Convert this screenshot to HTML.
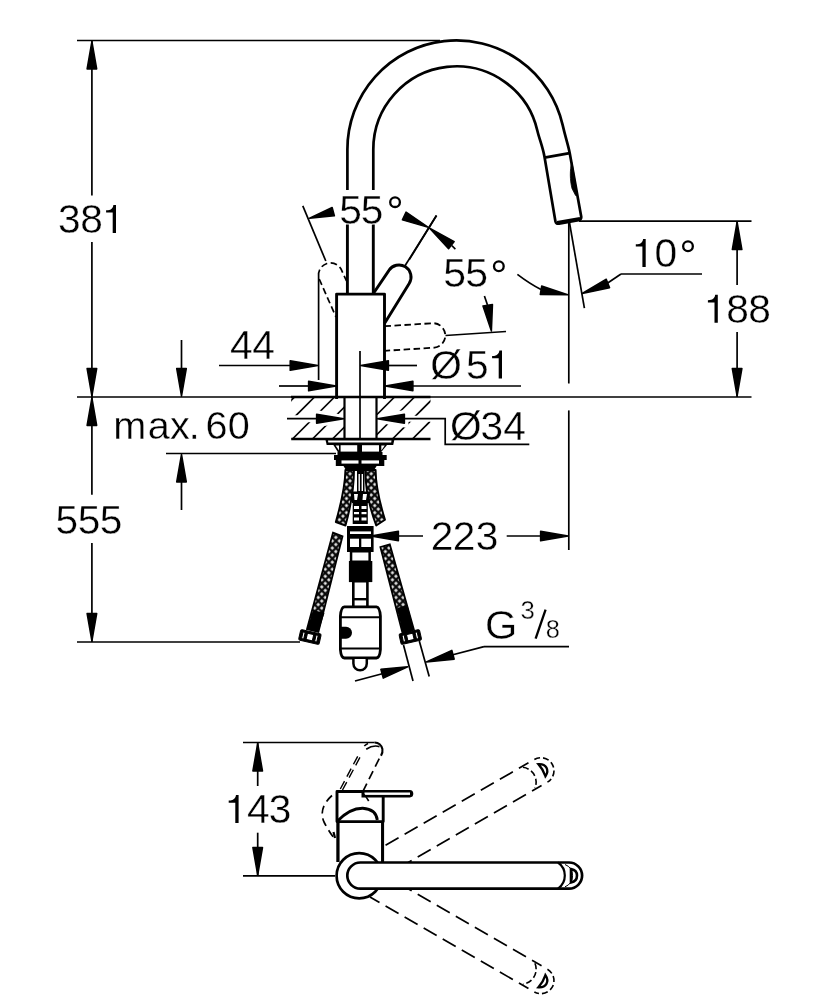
<!DOCTYPE html>
<html><head><meta charset="utf-8"><style>
html,body{margin:0;padding:0;background:#fff;width:834px;height:1000px;overflow:hidden}
svg{display:block;will-change:transform}
text{font-family:"Liberation Sans",sans-serif;fill:#000;stroke:#fff;stroke-width:0.35}
.h{fill:transparent;stroke:none}
.o{fill:#000;stroke:none}
</style></head><body>
<svg width="834" height="1000" viewBox="0 0 834 1000" stroke="#000" fill="none">
<defs>
<clipPath id="ct"><rect x="291.2" y="396.7" width="53.3" height="42.3"/><rect x="376.5" y="396.7" width="54" height="42.3"/></clipPath>
<mask id="halo" maskUnits="userSpaceOnUse" x="0" y="0" width="834" height="1000"><rect x="0" y="0" width="834" height="1000" fill="#fff"/><line x1="280" y1="418.7" x2="350" y2="418.7" stroke="#000" stroke-width="7"/>
<polygon points="344.5,418.7 316,423.95 316,413.45" fill="#000" stroke="#000" stroke-width="7" stroke-linejoin="round"/>
<line x1="370" y1="418.7" x2="450" y2="418.7" stroke="#000" stroke-width="6"/>
<polygon points="376.5,418.7 405,413.45 405,423.95" fill="#000" stroke="#000" stroke-width="7" stroke-linejoin="round"/></mask>
<pattern id="hp" width="5.0" height="5.0" patternUnits="userSpaceOnUse" patternTransform="rotate(45)"><rect width="5.0" height="5.0" fill="#000"/><rect x="0.75" y="0.75" width="3.5" height="3.5" fill="#fff"/></pattern>
</defs>
<line x1="77" y1="40.5" x2="440" y2="40.5" stroke-width="1.7"/>
<line x1="91.9" y1="40.5" x2="91.9" y2="195.5" stroke-width="1.7"/>
<line x1="91.9" y1="242" x2="91.9" y2="397" stroke-width="1.7"/>
<polygon points="91.9,41.3 96.7,68.9 87.1,68.9" fill="#000" stroke="#000" stroke-width="1.5" stroke-linejoin="round"/>
<polygon points="91.9,396.2 87.1,368.6 96.7,368.6" fill="#000" stroke="#000" stroke-width="1.5" stroke-linejoin="round"/>
<line x1="77" y1="397" x2="751.5" y2="397" stroke-width="1.7"/>
<line x1="291" y1="397" x2="430.5" y2="397" stroke-width="2.5"/>
<line x1="579" y1="221.2" x2="751.5" y2="221.2" stroke-width="1.7"/>
<line x1="737.1" y1="221.2" x2="737.1" y2="285" stroke-width="1.7"/>
<line x1="737.1" y1="332" x2="737.1" y2="397" stroke-width="1.7"/>
<polygon points="737.1,222 741.9,249.6 732.3,249.6" fill="#000" stroke="#000" stroke-width="1.5" stroke-linejoin="round"/>
<polygon points="737.1,396.2 732.3,368.6 741.9,368.6" fill="#000" stroke="#000" stroke-width="1.5" stroke-linejoin="round"/>
<path d="M347.4 190 L347.4 149.4 A109 109 0 0 1 562.61 124.88 C565.76 138.52 568.2 145 569.7 153 L581.2 216.5 Q581.6 219.5 578.5 220.2 L559 223.6 Q556 224.2 555.4 221.2 L544.4 156.3 C542.5 146 539.17 138.5 537.37 130.71 A83.1 83.1 0 0 0 373.3 149.4 L373.3 190" stroke-width="2.7" fill="none"/>
<line x1="347.4" y1="224.5" x2="347.4" y2="294" stroke-width="2.9"/>
<line x1="373.3" y1="224.5" x2="373.3" y2="294" stroke-width="2.9"/>
<line x1="544.4" y1="157.6" x2="569.7" y2="153.1" stroke-width="2.9"/>
<path d="M571.6 162.5 C569.9 170 569.8 180 572 188.5 L575.6 195.5 L577.4 195.5 L572 162.5 Z" fill="#000" stroke="#000" stroke-width="0.8" stroke-linejoin="round"/>
<line x1="557" y1="222.6" x2="580" y2="218.7" stroke-width="3.2"/>
<path d="M336.6 399 L336.6 294.1 L384.5 294.1 L384.5 399" stroke-width="2.9" fill="none" stroke-linejoin="round"/>
<line x1="360" y1="351" x2="360" y2="444" stroke-width="1.7"/>
<path d="M373.7 293 L388.8 270.6 A12 12 0 0 1 409.2 283.4 L384.5 323.5" stroke-width="2.9" fill="none"/>
<line x1="404.7" y1="266.3" x2="436.5" y2="215.5" stroke-width="1.7"/>
<path d="M319.2 279 L336 317" stroke-width="1.7" fill="none" stroke-dasharray="6.5 3.5"/>
<path d="M318.6 276 A12 12 0 0 1 341 269 L346.5 281" stroke-width="1.7" fill="none" stroke-dasharray="6.5 3.5"/>
<line x1="325.8" y1="261" x2="302.8" y2="205.9" stroke-width="1.7"/>
<line x1="318.6" y1="276" x2="318.6" y2="380" stroke-width="1.7"/>
<path d="M384.5 326.2 L433.5 323.2 A12.3 12.3 0 0 1 434.5 347.7 L384.5 350.8" stroke-width="1.8" fill="none" stroke-dasharray="6.5 3.5"/>
<line x1="445.5" y1="335.5" x2="506" y2="331.5" stroke-width="1.7"/>
<polygon points="309.57,218.19 332.16,207.54 334.43,215.84" fill="#000" stroke="#000" stroke-width="1.5" stroke-linejoin="round"/>
<polygon points="428.28,227.36 402.39,219.88 406.06,212.11" fill="#000" stroke="#000" stroke-width="1.5" stroke-linejoin="round"/>
<polygon points="429.63,228.19 454.18,241.61 448.57,248.77" fill="#000" stroke="#000" stroke-width="1.5" stroke-linejoin="round"/>
<line x1="451.9" y1="245.6" x2="455.4" y2="249.1" stroke-width="1.6"/>
<line x1="409.3" y1="259.6" x2="436.5" y2="215.5" stroke-width="1.7"/>
<line x1="484.4" y1="295.9" x2="487.5" y2="305" stroke-width="1.7"/>
<polygon points="491.39,331.11 482.97,305.94 492.48,304.59" fill="#000" stroke="#000" stroke-width="1.5" stroke-linejoin="round"/>
<path d="M517.4 274.4 Q530 284 541 289.5" stroke-width="1.7" fill="none"/>
<polygon points="567.71,294.67 540.27,294.54 541.66,286.05" fill="#000" stroke="#000" stroke-width="1.5" stroke-linejoin="round"/>
<line x1="568.8" y1="221.2" x2="568.8" y2="383.5" stroke-width="1.7"/>
<line x1="568.8" y1="410.4" x2="568.8" y2="550" stroke-width="1.7"/>
<line x1="569.2" y1="221" x2="584.4" y2="308.2" stroke-width="1.7"/>
<line x1="621" y1="274" x2="702" y2="274" stroke-width="1.7"/>
<line x1="621" y1="274" x2="604" y2="285.5" stroke-width="1.7"/>
<polygon points="582.24,293.51 606.27,279.18 609.6,287.65" fill="#000" stroke="#000" stroke-width="1.5" stroke-linejoin="round"/>
<line x1="219" y1="365.5" x2="300" y2="365.5" stroke-width="1.7"/>
<polygon points="317.8,365.5 290.2,370.3 290.2,360.7" fill="#000" stroke="#000" stroke-width="1.5" stroke-linejoin="round"/>
<polygon points="360.8,365.5 388.4,360.7 388.4,370.3" fill="#000" stroke="#000" stroke-width="1.5" stroke-linejoin="round"/>
<line x1="385" y1="365.5" x2="417" y2="365.5" stroke-width="1.7"/>
<line x1="279" y1="386" x2="310" y2="386" stroke-width="1.7"/>
<polygon points="336.2,386 308.6,390.8 308.6,381.2" fill="#000" stroke="#000" stroke-width="1.5" stroke-linejoin="round"/>
<polygon points="385.3,386 412.9,381.2 412.9,390.8" fill="#000" stroke="#000" stroke-width="1.5" stroke-linejoin="round"/>
<line x1="410" y1="386" x2="521" y2="386" stroke-width="1.7"/>
<line x1="181.5" y1="340" x2="181.5" y2="380" stroke-width="1.7"/>
<polygon points="181.5,396.2 176.7,368.6 186.3,368.6" fill="#000" stroke="#000" stroke-width="1.5" stroke-linejoin="round"/>
<line x1="166" y1="453.5" x2="336" y2="453.5" stroke-width="1.7"/>
<polygon points="181.5,454.3 186.3,481.9 176.7,481.9" fill="#000" stroke="#000" stroke-width="1.5" stroke-linejoin="round"/>
<line x1="181.5" y1="470" x2="181.5" y2="510" stroke-width="1.7"/>
<line x1="91.9" y1="397" x2="91.9" y2="494.7" stroke-width="1.7"/>
<line x1="91.9" y1="543" x2="91.9" y2="642" stroke-width="1.7"/>
<polygon points="91.9,397.8 96.7,425.4 87.1,425.4" fill="#000" stroke="#000" stroke-width="1.5" stroke-linejoin="round"/>
<polygon points="91.9,641.2 87.1,613.6 96.7,613.6" fill="#000" stroke="#000" stroke-width="1.5" stroke-linejoin="round"/>
<line x1="77" y1="642" x2="300" y2="642" stroke-width="1.7"/>
<g clip-path="url(#ct)" mask="url(#halo)">
<line x1="221.5" y1="470" x2="321.5" y2="370" stroke-width="1.6"/>
<line x1="241.5" y1="470" x2="341.5" y2="370" stroke-width="1.6"/>
<line x1="261.5" y1="470" x2="361.5" y2="370" stroke-width="1.6"/>
<line x1="281.5" y1="470" x2="381.5" y2="370" stroke-width="1.6"/>
<line x1="301.5" y1="470" x2="401.5" y2="370" stroke-width="1.6"/>
<line x1="321.5" y1="470" x2="421.5" y2="370" stroke-width="1.6"/>
<line x1="341.5" y1="470" x2="441.5" y2="370" stroke-width="1.6"/>
<line x1="361.5" y1="470" x2="461.5" y2="370" stroke-width="1.6"/>
<line x1="381.5" y1="470" x2="481.5" y2="370" stroke-width="1.6"/>
</g>
<line x1="291.2" y1="439" x2="430.5" y2="439" stroke-width="2.5"/>
<line x1="344.5" y1="396.7" x2="344.5" y2="439" stroke-width="2.2"/>
<line x1="376.5" y1="396.7" x2="376.5" y2="439" stroke-width="2.2"/>
<line x1="287" y1="418.7" x2="320" y2="418.7" stroke-width="1.7"/>
<polygon points="343.7,418.7 316.6,423.25 316.6,414.15" fill="#000" stroke="#000" stroke-width="1.5" stroke-linejoin="round"/>
<polygon points="377.3,418.7 404.4,414.15 404.4,423.25" fill="#000" stroke="#000" stroke-width="1.5" stroke-linejoin="round"/>
<path d="M400 418.7 L445.2 418.7 L445.2 444.4 L529.3 444.4" stroke-width="1.7" fill="none"/>
<line x1="380" y1="536" x2="423" y2="536" stroke-width="1.7"/>
<polygon points="370.8,536 398.4,531.2 398.4,540.8" fill="#000" stroke="#000" stroke-width="1.5" stroke-linejoin="round"/>
<line x1="506.7" y1="536" x2="545" y2="536" stroke-width="1.7"/>
<polygon points="568.2,536 540.6,540.8 540.6,531.2" fill="#000" stroke="#000" stroke-width="1.5" stroke-linejoin="round"/>
<line x1="535.6" y1="638.7" x2="545.6" y2="609.6" stroke-width="2.3"/>
<line x1="484" y1="646.6" x2="569" y2="646.6" stroke-width="1.7"/>
<line x1="484" y1="646.6" x2="450" y2="655.5" stroke-width="1.7"/>
<polygon points="426.37,661.89 451.86,650.36 454.21,659.15" fill="#000" stroke="#000" stroke-width="1.5" stroke-linejoin="round"/>
<line x1="355" y1="681" x2="385" y2="673" stroke-width="1.7"/>
<polygon points="407.73,666.81 383.24,678.14 380.86,669.35" fill="#000" stroke="#000" stroke-width="1.5" stroke-linejoin="round"/>
<polygon points="325.3,439 394.5,439 393.2,445 326.7,445" fill="#000" stroke="none" stroke-width="0"/>
<polygon points="328,440.6 391.5,440.6 391.2,442.6 328.3,442.6" fill="#fff" stroke="none" stroke-width="0"/>
<polygon points="333.4,445 387,445 381,452.3 338,452.3" fill="#000" stroke="none" stroke-width="0"/>
<polygon points="335.6,445.6 339,445.6 339,450.5" fill="#fff" stroke="none" stroke-width="0"/>
<polygon points="384.8,445.6 381.3,445.6 381.3,450.5" fill="#fff" stroke="none" stroke-width="0"/>
<polygon points="340.6,445.2 357.2,445.2 357.2,451.6 340.6,451.6" fill="#fff" stroke="none" stroke-width="0"/>
<polygon points="362,445.2 379,445.2 379,451.6 362,451.6" fill="#fff" stroke="none" stroke-width="0"/>
<polygon points="337.5,452 382.5,452 382.5,455 386.7,455 386.7,460 334,460 334,455 337.5,455" fill="#000" stroke="none" stroke-width="0"/>
<polygon points="335.8,460 384.3,460 384.3,466 335.8,466" fill="#000" stroke="none" stroke-width="0"/>
<polygon points="341.5,460.4 358.5,460.4 358.5,463.6 341.5,463.6" fill="#fff" stroke="none" stroke-width="0"/>
<polygon points="361.5,460.4 379,460.4 379,463.6 361.5,463.6" fill="#fff" stroke="none" stroke-width="0"/>
<polygon points="343.5,466 376.6,466 373.5,471 346.5,471" fill="#000" stroke="none" stroke-width="0"/>
<path d="M345.4 470 L354 470 Q354 495 345.5 525.5 L335.8 522 Q345 490 345.4 470 Z" stroke-width="1.9" fill="url(#hp)" stroke-linejoin="round"/>
<path d="M365.3 470 L375.6 470 Q375.8 490 385 519.8 L376.2 525.5 Q365 495 365.3 470 Z" stroke-width="1.9" fill="url(#hp)" stroke-linejoin="round"/>
<polygon points="357,471 364.5,471 364.5,493 357,493" fill="#000" stroke="none" stroke-width="0"/>
<polygon points="358.5,474 359.9,474 359.9,491 358.5,491" fill="#fff" stroke="none" stroke-width="0"/>
<polygon points="361.6,474 363,474 363,491 361.6,491" fill="#fff" stroke="none" stroke-width="0"/>
<polygon points="350.5,491.5 370,491.5 369,503 352,503" fill="#000" stroke="none" stroke-width="0"/>
<polygon points="354,494 358,494 357,500 354.5,500" fill="#fff" stroke="none" stroke-width="0"/>
<polygon points="363,494 367,494 366,500 362.5,500" fill="#fff" stroke="none" stroke-width="0"/>
<polygon points="352.7,502.8 367.8,502.8 367.8,524 352.7,524" fill="#000" stroke="none" stroke-width="0"/>
<polygon points="354,506 359,506 359,509 354,509" fill="#fff" stroke="none" stroke-width="0"/>
<polygon points="361.5,506 366.5,506 366.5,509 361.5,509" fill="#fff" stroke="none" stroke-width="0"/>
<polygon points="354,512 359,512 359,514.2 354,514.2" fill="#fff" stroke="none" stroke-width="0"/>
<polygon points="361.5,512 366.5,512 366.5,514.2 361.5,514.2" fill="#fff" stroke="none" stroke-width="0"/>
<polygon points="354,517.5 359,517.5 359,520.5 354,520.5" fill="#fff" stroke="none" stroke-width="0"/>
<polygon points="361.5,517.5 366.5,517.5 366.5,520.5 361.5,520.5" fill="#fff" stroke="none" stroke-width="0"/>
<polygon points="347,526 373.6,526 373.6,552 347,552" fill="#000" stroke="none" stroke-width="0"/>
<polygon points="350,531.4 371,531.4 371,534 350,534" fill="#fff" stroke="none" stroke-width="0"/>
<polygon points="350,538.7 359,538.7 359,547 350,547" fill="#fff" stroke="none" stroke-width="0"/>
<polygon points="361.3,538.7 371,538.7 371,547 361.3,547" fill="#fff" stroke="none" stroke-width="0"/>
<polygon points="349.8,552 370.9,552 370.9,561.5 349.8,561.5" fill="#000" stroke="none" stroke-width="0"/>
<polygon points="352.3,552.5 368.4,552.5 368.4,560.5 352.3,560.5" fill="#fff" stroke="none" stroke-width="0"/>
<polygon points="348.9,561 372.3,561 372.3,582.1 348.9,582.1" fill="#000" stroke="none" stroke-width="0"/>
<polygon points="352,582 368.7,582 368.7,607 352,607" fill="#000" stroke="none" stroke-width="0"/>
<polygon points="354.6,582.5 366.1,582.5 366.1,598 354.6,598" fill="#fff" stroke="none" stroke-width="0"/>
<polygon points="354.6,600.4 366.1,600.4 366.1,606 354.6,606" fill="#fff" stroke="none" stroke-width="0"/>
<path d="M344.4 606.8 L376.4 606.8 Q379.8 607.2 380.4 616 L380.4 649.6 Q379.8 657.6 376.4 658 L344.4 658 Q341 657.6 340.4 649.6 L340.4 616 Q341 607.2 344.4 606.8 Z" stroke-width="2.8" fill="#fff" stroke-linejoin="round"/>
<line x1="340.4" y1="617.2" x2="380.4" y2="617.2" stroke-width="2.0"/>
<line x1="340.4" y1="648.4" x2="380.4" y2="648.4" stroke-width="2.0"/>
<path d="M340.4 626.8 L346 626.8 A6 6 0 0 1 346 638.8 L340.4 638.8 Z" fill="#000" stroke="none"/>
<path d="M353.4 659 L353.4 663.6 A6.7 6.7 0 0 0 366.8 663.6 L366.8 659" stroke-width="2.5" fill="#fff"/>
<polygon points="333,532.6 342.5,536.2 318.4,632 307,629" fill="url(#hp)" stroke="#000" stroke-width="1.8"/>
<polygon points="313.3,610 324.5,613 318.4,632 307,629" fill="#000" stroke="none" stroke-width="0"/>
<g transform="translate(309.9,637) rotate(13)"><rect x="-10.5" y="-5.3" width="21" height="10.6" rx="1.5" fill="#000"/><rect x="-7.8" y="-3.4" width="2.2" height="6.8" fill="#fff"/><rect x="5.6" y="-3.4" width="2.2" height="6.8" fill="#fff"/><rect x="-3.2" y="-3.2" width="6.4" height="6.4" fill="#fff"/></g>
<polygon points="380.4,547 389.8,544.3 413.9,629.7 402.6,633.3" fill="url(#hp)" stroke="#000" stroke-width="1.8"/>
<polygon points="397.3,608 407.5,605 413.9,629.7 402.6,633.3" fill="#000" stroke="none" stroke-width="0"/>
<g transform="translate(410.3,637) rotate(-13)"><rect x="-10.5" y="-5.3" width="21" height="10.6" rx="1.5" fill="#000"/><rect x="-7.8" y="-3.4" width="2.2" height="6.8" fill="#fff"/><rect x="5.6" y="-3.4" width="2.2" height="6.8" fill="#fff"/><rect x="-3.2" y="-3.2" width="6.4" height="6.4" fill="#fff"/></g>
<line x1="403.5" y1="645" x2="413" y2="681" stroke-width="1.7"/>
<line x1="419.3" y1="641" x2="429.2" y2="676.5" stroke-width="1.7"/>
<line x1="243" y1="742.5" x2="374.6" y2="742.5" stroke-width="1.7"/>
<line x1="243" y1="875.9" x2="335" y2="875.9" stroke-width="1.7"/>
<line x1="257.7" y1="743" x2="257.7" y2="786" stroke-width="1.7"/>
<line x1="257.7" y1="832.7" x2="257.7" y2="876" stroke-width="1.7"/>
<polygon points="257.7,743.3 262.5,770.9 252.9,770.9" fill="#000" stroke="#000" stroke-width="1.5" stroke-linejoin="round"/>
<polygon points="257.7,875.1 252.9,847.5 262.5,847.5" fill="#000" stroke="#000" stroke-width="1.5" stroke-linejoin="round"/>
<path d="M374.6 742.5 Q380.8 742.8 382.4 749 Q383 752.5 381 755.8" stroke-width="2.1" fill="none"/>
<path d="M366.2 749.2 Q373 744.6 379.5 746.6" stroke-width="1.7" fill="none"/>
<path d="M364.3 746 Q366 744.2 368 743.4" stroke-width="1.6" fill="none"/>
<line x1="340.3" y1="789" x2="360" y2="752" stroke-width="1.4" stroke-dasharray="9 5"/>
<line x1="342.5" y1="790" x2="362" y2="753.5" stroke-width="1.4" stroke-dasharray="9 5"/>
<line x1="362.8" y1="791.7" x2="381" y2="755" stroke-width="1.7" stroke-dasharray="9 5"/>
<path d="M332 795.5 Q318 808 324 822 Q329 832 335.5 840" stroke-width="1.7" fill="none" stroke-dasharray="8 5"/>
<path d="M335 838 L333.5 832" stroke-width="2.2" fill="none"/>
<path d="M337 821.6 L337 791.5 L383.2 791.5 L383.2 821.6 Z" stroke-width="2.9" fill="#fff" stroke-linejoin="round"/>
<path d="M361.5 790.1 L409.8 790.1 Q413.3 790.3 413.3 793.75 Q413.3 797.2 409.8 797.4 L361.5 797.4 Z" stroke-width="0" fill="#000"/>
<rect x="364.5" y="792.5" width="45.5" height="2.4" fill="#fff" stroke="none"/>
<path d="M337.5 821 Q350 808 362.8 808.2 Q376 809 377.3 820" stroke-width="2.9" fill="none"/>
<path d="M362.5 793 Q366 796 368.7 801" stroke-width="1.6" fill="none"/>
<path d="M338 822 L338 862 M382.6 822 L382.6 862" stroke-width="2.9" fill="none"/>
<g transform="translate(359.2,875.7) rotate(-30)">
<path d="M20 -13.1 L203 -13.1 M20 13.1 L203 13.1" stroke-width="1.7" stroke-dasharray="15 7" stroke-dashoffset="4"/>
<path d="M209.8 -13.1 A13.1 13.1 0 0 1 209.8 13.1" stroke-width="1.6" stroke-dasharray="6 3" fill="none"/>
<path d="M196 -12 A15 15 0 0 1 196 12" stroke-width="1.6" stroke-dasharray="6 3" fill="none"/>
<path d="M211 -7 Q216.2 -4.5 216.2 0 Q216.2 4.5 211 7 Q212.5 0 211 -7 Z" stroke-width="2.3" fill="none"/>
</g>
<g transform="translate(359.2,875.7) rotate(30)">
<path d="M20 -13.1 L203 -13.1 M20 13.1 L203 13.1" stroke-width="1.7" stroke-dasharray="15 7" stroke-dashoffset="4"/>
<path d="M209.8 -13.1 A13.1 13.1 0 0 1 209.8 13.1" stroke-width="1.6" stroke-dasharray="6 3" fill="none"/>
<path d="M196 -12 A15 15 0 0 1 196 12" stroke-width="1.6" stroke-dasharray="6 3" fill="none"/>
<path d="M211 -7 Q216.2 -4.5 216.2 0 Q216.2 4.5 211 7 Q212.5 0 211 -7 Z" stroke-width="2.3" fill="none"/>
</g>
<rect x="339.5" y="823.2" width="41.6" height="38.5" fill="#fff" stroke="none"/>
<path d="M338 822 L338 862 M382.6 822 L382.6 862" stroke-width="2.9" fill="none"/>
<circle cx="359.2" cy="875.7" r="22.6" fill="#fff" stroke="#000" stroke-width="2.7"/>
<path d="M360.4 862.5 L569 862.5 A13.1 13.1 0 0 1 569 888.7 L360.4 888.7 A13.1 13.1 0 0 1 360.4 862.5 Z" stroke-width="2.7" fill="#fff"/>
<path d="M558 862.5 A16 16 0 0 1 558 888.7" stroke-width="2.2" fill="none"/>
<path d="M565 864.5 A12 12 0 0 1 565 886.8" stroke-width="1.0" fill="none"/>
<path d="M571 869 Q577 870 577 875.6 Q577 881.5 571 882.5 Z" stroke-width="2.6" fill="none"/>
<circle cx="395.05" cy="202.15" r="4.85" stroke-width="2.3" fill="none"/>
<circle cx="498.85" cy="266.2" r="4.85" stroke-width="2.3" fill="none"/>
<circle cx="688" cy="246.25" r="4.85" stroke-width="2.3" fill="none"/>
<path d="M112.70 232.90 L116.00 232.90 L116.00 204.90 L113.40 204.90 C113.10 207.50 111.50 209.90 108.10 210.20 L106.10 210.30 L106.10 212.60 L112.70 212.60 Z" class="o"/>
<text x="58.05 80.33 103" y="232.9" font-size="40.7">38<tspan class="h">1</tspan></text>
<path d="M714.50 322.80 L717.80 322.80 L717.80 294.80 L715.20 294.80 C714.90 297.40 713.30 299.80 709.90 300.10 L707.90 300.20 L707.90 302.50 L714.50 302.50 Z" class="o"/>
<text x="704.8 726.13 748.13" y="322.8" font-size="40.7"><tspan class="h">1</tspan>88</text>
<text x="339.17 360.77 386.58" y="223.8" font-size="40.7">55<tspan class="h">°</tspan></text>
<text x="443.26 465.36 490.56" y="287.3" font-size="41">55<tspan class="h">°</tspan></text>
<path d="M642.40 266.90 L645.70 266.90 L645.70 238.90 L643.10 238.90 C642.80 241.50 641.20 243.90 637.80 244.20 L635.80 244.30 L635.80 246.60 L642.40 246.60 Z" class="o"/>
<text x="632.7 654.51 679.28" y="266.9" font-size="40.7"><tspan class="h">1</tspan>0<tspan class="h">°</tspan></text>
<text x="230.07 252.37" y="358.8" font-size="40.7">44</text>
<path d="M498.70 378.60 L502.00 378.60 L502.00 350.60 L499.40 350.60 C499.10 353.20 497.50 355.60 494.10 355.90 L492.10 356.00 L492.10 358.30 L498.70 358.30 Z" class="o"/>
<text x="430.19 465.97 489" y="378.6" font-size="40.7">Ø5<tspan class="h">1</tspan></text>
<text x="113.27 147.72 169.96 188.68 205.39 227.85" y="438.6" font-size="39.6">max.60</text>
<text x="449.99 480.45 503.17" y="440.2" font-size="40.7">Ø34</text>
<text x="55.57 77.67 99.67" y="533.7" font-size="40.7">555</text>
<text x="430.65 452.65 475.75" y="549.5" font-size="40.7">223</text>
<path d="M235.30 823.10 L238.60 823.10 L238.60 795.10 L236.00 795.10 C235.70 797.70 234.10 800.10 230.70 800.40 L228.70 800.50 L228.70 802.80 L235.30 802.80 Z" class="o"/>
<text x="225.6 246.97 268.85" y="823.1" font-size="40.7"><tspan class="h">1</tspan>43</text>
<text x="484.91" y="638.8" font-size="41.5">G</text>
<text x="520.52" y="619.4" font-size="25.8">3</text>
<text x="535.5" y="638.7" font-size="40"><tspan class="h">/</tspan></text>
<text x="545.8" y="638.3" font-size="25.4">8</text>
</svg></body></html>
